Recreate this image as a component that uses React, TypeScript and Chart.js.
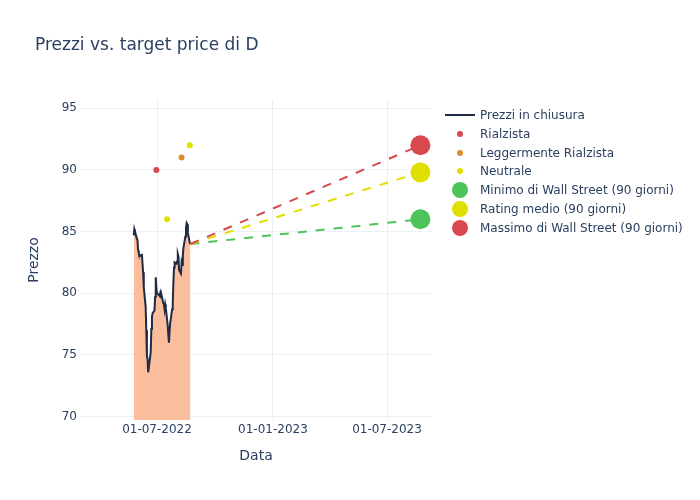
import React, { useEffect, useRef } from "react";
import { Chart, registerables } from "chart.js";

Chart.register(...registerables);

const priceDates = [
  "2022-05-25", "2022-05-26", "2022-05-27", "2022-05-31", "2022-06-01", "2022-06-02", "2022-06-03",
  "2022-06-06", "2022-06-07", "2022-06-08", "2022-06-09", "2022-06-10", "2022-06-13", "2022-06-14",
  "2022-06-15", "2022-06-16", "2022-06-17", "2022-06-21", "2022-06-22", "2022-06-23", "2022-06-24",
  "2022-06-27", "2022-06-28", "2022-06-29", "2022-06-30", "2022-07-01", "2022-07-05", "2022-07-06",
  "2022-07-07", "2022-07-08", "2022-07-11", "2022-07-12", "2022-07-13", "2022-07-14", "2022-07-15",
  "2022-07-18", "2022-07-19", "2022-07-20", "2022-07-21", "2022-07-22", "2022-07-25", "2022-07-26",
  "2022-07-27", "2022-07-28", "2022-07-29", "2022-08-01", "2022-08-02", "2022-08-03", "2022-08-04",
  "2022-08-05", "2022-08-08", "2022-08-09", "2022-08-10", "2022-08-11", "2022-08-12", "2022-08-15",
  "2022-08-16", "2022-08-17", "2022-08-18", "2022-08-19", "2022-08-22", "2022-08-23",
];
const closePrices = [
  84.7, 85.2, 85.0, 84.3, 83.5, 83.3, 83.0,
  83.1, 83.2, 82.4, 81.7, 80.5, 78.9, 77.0,
  74.9, 74.7, 73.6, 75.2, 77.1, 78.1, 78.4,
  78.6, 79.7, 81.3, 80.4, 80.0, 79.8, 80.0,
  79.6, 79.9, 79.2, 79.1, 78.7, 79.1, 78.8,
  77.4, 76.6, 76.0, 77.0, 77.6, 78.7, 79.2,
  80.9, 82.1, 82.5, 82.4, 82.6, 83.2, 83.0,
  81.9, 81.6, 82.5, 82.3, 83.1, 83.7, 84.6,
  85.3, 85.7, 85.6, 84.9, 84.1, 84.0,
];

const bullishDates = ["2022-06-30"];
const bullishTargets = [90];
const slightlyBullishDates = ["2022-08-09"];
const slightlyBullishTargets = [91];
const neutralDates = ["2022-07-17", "2022-08-22"];
const neutralTargets = [86, 92];

const targetDate = "2023-08-23";
const minTarget = 86;
const avgTarget = 89.8;
const maxTarget = 92;

const xTickDates = ["2022-07-01", "2023-01-01", "2023-07-01"];
const yTickValues = [70, 75, 80, 85, 90, 95];

const DAY = 86400000;
const ts = (s: string) => new Date(s + "T00:00:00Z").getTime();
const fmt = (v: number) => {
  const d = new Date(v);
  const dd = String(d.getUTCDate()).padStart(2, "0");
  const mm = String(d.getUTCMonth() + 1).padStart(2, "0");
  return `${dd}-${mm}-${d.getUTCFullYear()}`;
};

const TEXT = "#2a3f5f";
const GRID = "#ebf0f8";
const NAVY = "#1f2a44";
const FILL = "rgb(250,190,156)";
const RED = "rgb(217,72,78)";
const ORANGE = "rgb(222,140,42)";
const YELLOW = "rgb(224,224,0)";
const GREEN = "rgb(76,196,90)";
const FONT = "'DejaVu Sans', sans-serif";

const legendItems = [
  { label: "Prezzi in chiusura", kind: "line", color: NAVY },
  { label: "Rialzista", kind: "small", color: RED },
  { label: "Leggermente Rialzista", kind: "small", color: ORANGE },
  { label: "Neutrale", kind: "small", color: YELLOW },
  { label: "Minimo di Wall Street (90 giorni)", kind: "big", color: GREEN },
  { label: "Rating medio (90 giorni)", kind: "big", color: YELLOW },
  { label: "Massimo di Wall Street (90 giorni)", kind: "big", color: RED },
];

export default function App() {
  const ref = useRef<HTMLCanvasElement | null>(null);

  useEffect(() => {
    if (!ref.current) return;
    const lastX = ts(priceDates[priceDates.length - 1]);
    const lastY = closePrices[closePrices.length - 1];
    const tX = ts(targetDate);
    const dashed = (label: string, color: string, target: number) => ({
      type: "line" as const,
      label,
      data: [
        { x: lastX, y: lastY },
        { x: tX, y: target },
      ],
      borderColor: color,
      borderWidth: 2,
      borderDash: [9, 9],
      pointRadius: 0,
      fill: false,
      order: 5,
    });
    const pts = (label: string, dates: string[], vals: number[], color: string, r: number) => ({
      type: "scatter" as const,
      label,
      data: dates.map((d, i) => ({ x: ts(d), y: vals[i] })),
      backgroundColor: color,
      borderColor: color,
      borderWidth: 0,
      pointRadius: r,
      pointHoverRadius: r,
      showLine: false,
      order: 1,
    });

    const chart = new Chart(ref.current, {
      type: "scatter",
      data: {
        datasets: [
          {
            type: "line",
            label: "Prezzi in chiusura",
            data: priceDates.map((d, i) => ({ x: ts(d), y: closePrices[i] })),
            borderColor: NAVY,
            borderWidth: 2,
            backgroundColor: FILL,
            fill: "start",
            pointRadius: 0,
            tension: 0,
            order: 10,
          },
          dashed("max", RED, maxTarget),
          dashed("avg", YELLOW, avgTarget),
          dashed("min", GREEN, minTarget),
          pts("Rialzista", bullishDates, bullishTargets, RED, 3),
          pts("Leggermente Rialzista", slightlyBullishDates, slightlyBullishTargets, ORANGE, 3),
          pts("Neutrale", neutralDates, neutralTargets, YELLOW, 3),
          pts("Minimo di Wall Street (90 giorni)", [targetDate], [minTarget], GREEN, 10),
          pts("Rating medio (90 giorni)", [targetDate], [avgTarget], YELLOW, 10),
          pts("Massimo di Wall Street (90 giorni)", [targetDate], [maxTarget], RED, 10),
        ] as any,
      },
      options: {
        responsive: false,
        animation: false,
        events: [],
        layout: { padding: { left: 0, top: 100, right: 268, bottom: 0 } },
        plugins: {
          legend: { display: false },
          tooltip: { enabled: false },
          title: { display: false },
        },
        scales: {
          x: {
            type: "linear",
            min: ts("2022-07-01") - 122.2 * DAY,
            max: ts("2023-07-01") + 71.4 * DAY,
            afterBuildTicks: (s: any) => {
              s.ticks = xTickDates.map((d) => ({ value: ts(d) }));
            },
            afterFit: (s: any) => {
              s.height = 80;
            },
            ticks: {
              callback: (v: any) => fmt(Number(v)),
              color: TEXT,
              font: { family: FONT, size: 12 },
              padding: 3,
              maxRotation: 0,
            },
            grid: { color: GRID, lineWidth: 1, drawTicks: false },
            border: { display: false },
            title: {
              display: true,
              text: "Data",
              color: TEXT,
              font: { family: FONT, size: 14 },
              padding: { top: 0, bottom: 35 },
            },
          },
          y: {
            type: "linear",
            min: 69.73,
            max: 95.67,
            afterBuildTicks: (s: any) => {
              s.ticks = yTickValues.map((v) => ({ value: v }));
            },
            afterFit: (s: any) => {
              s.width = 80;
            },
            ticks: {
              color: TEXT,
              font: { family: FONT, size: 12 },
              padding: 3,
            },
            grid: { color: GRID, lineWidth: 1, drawTicks: false },
            border: { display: false },
            title: {
              display: true,
              text: "Prezzo",
              color: TEXT,
              font: { family: FONT, size: 14 },
              padding: { top: 26, bottom: 0 },
            },
          },
        },
      } as any,
    });
    return () => chart.destroy();
  }, []);

  return (
    <div style={{ position: "absolute", left: 0, top: 0, width: 700, height: 500, background: "#fff", fontFamily: FONT }}>
      <canvas ref={ref} width={700} height={500} style={{ width: 700, height: 500, display: "block" }} />
      <div
        style={{
          position: "absolute",
          left: 35,
          top: 34,
          fontSize: 17,
          color: TEXT,
          whiteSpace: "nowrap",
          lineHeight: "normal",
        }}
      >
        Prezzi vs. target price di D
      </div>
      {legendItems.map((it, i) => {
        const cy = 115 + i * 18.8;
        return (
          <div key={i} style={{ position: "absolute", left: 440, top: cy - 10, height: 20, width: 260 }}>
            {it.kind === "line" ? (
              <div style={{ position: "absolute", left: 5, top: 9, width: 30, height: 2, background: it.color }} />
            ) : (
              <div
                style={{
                  position: "absolute",
                  left: 20 - (it.kind === "big" ? 8 : 3),
                  top: 10 - (it.kind === "big" ? 8 : 3),
                  width: it.kind === "big" ? 16 : 6,
                  height: it.kind === "big" ? 16 : 6,
                  borderRadius: "50%",
                  background: it.color,
                }}
              />
            )}
            <div
              style={{
                position: "absolute",
                left: 40,
                top: 0,
                height: 20,
                lineHeight: "20px",
                fontSize: 12,
                color: TEXT,
                whiteSpace: "nowrap",
              }}
            >
              {it.label}
            </div>
          </div>
        );
      })}
    </div>
  );
}
